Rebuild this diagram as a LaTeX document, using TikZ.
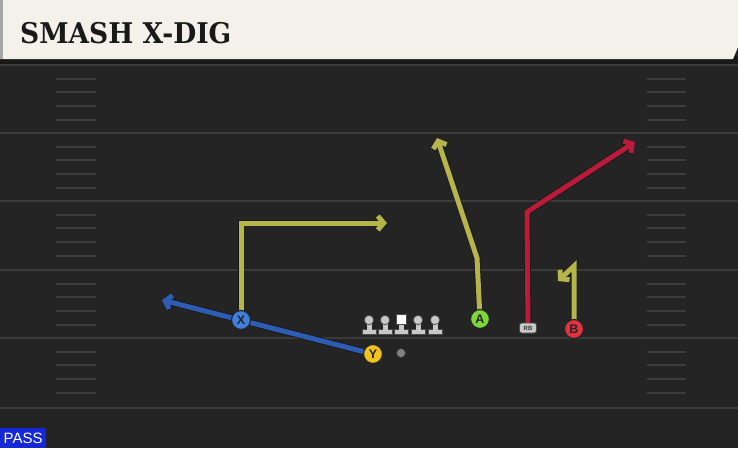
\documentclass[tikz,border=0pt]{standalone}
\usepackage{fontspec}
\setmainfont{Liberation Sans}
\newfontfamily\titlefont{DejaVu Serif}
\usetikzlibrary{arrows.meta,backgrounds}
\definecolor{fieldbg}{HTML}{242424}
\definecolor{yardline}{HTML}{3A3A3A}
\definecolor{hashc}{HTML}{3C3C3C}
\definecolor{bannerc}{HTML}{F4F1EA}
\definecolor{olive}{HTML}{B5B54C}
\definecolor{routeblue}{HTML}{2D5CB3}
\definecolor{routered}{HTML}{B81C3A}
\definecolor{ycol}{HTML}{F0C21E}
\definecolor{xcol}{HTML}{3F7FE0}
\definecolor{acol}{HTML}{7CD63A}
\definecolor{bcol}{HTML}{E6313F}
\definecolor{passblue}{HTML}{1428D6}
\definecolor{olc}{HTML}{C8C8C8}
\tikzset{
  route/.style={line width=5pt, -{Straight Barb[length=6pt,width=14pt]},
    preaction={draw=black!90, line width=6.6pt}},
  player/.style={circle, minimum size=19pt, inner sep=0pt, draw=black!85, line width=1.2pt,
    font=\bfseries\fontsize{12.5}{12.5}\selectfont, text=black!85},
  lineman/.pic={
    \fill[olc, draw=black!70, line width=0.7pt] (-7,9) rectangle (7,14);
    \fill[olc] (-2.5,1) rectangle (2.5,10);
    \fill[olc, draw=black!70, line width=0.7pt] (0,0) circle (4.7);
  },
  centerman/.pic={
    \fill[olc, draw=black!70, line width=0.7pt] (-7,9) rectangle (7,14);
    \fill[olc] (-2.5,2) rectangle (2.5,10);
    \fill[white, draw=black!70, line width=0.7pt] (-5,-6) rectangle (5,4);
  },
}
\begin{document}
\begin{tikzpicture}[x=1pt,y=-1pt]
\useasboundingbox (0,0) rectangle (738,448);
% players
\node[player, fill=xcol] (X) at (241,320) {X};
\node[player, fill=ycol] (Y) at (373,354) {Y};
\node[player, fill=acol] (A) at (480,319) {A};
\node[player, fill=bcol] (B) at (574,329) {B};
\node[fill=olc, draw=black!70, line width=0.6pt, rounded corners=2.5pt, minimum width=17pt, minimum height=10pt,
  inner sep=0pt, font=\bfseries\fontsize{6}{6}\selectfont, text=black!80] (RB) at (528,328) {RB};
\node[circle, fill=black!50!white, draw=black!80, line width=0.5pt, minimum size=9pt, inner sep=0pt] (QB) at (401,353) {};
\pic at (369,320) {lineman};
\pic at (385,320) {lineman};
\pic at (401,320) {centerman};
\pic at (418,320) {lineman};
\pic at (435,320) {lineman};
% route coordinates
\coordinate (yend) at (162,300);
\coordinate (xb) at (241,223);
\coordinate (xend) at (387,223);
\coordinate (ab) at (477,258);
\coordinate (aend) at (437,138);
\coordinate (rbb) at (527,212);
\coordinate (rbend) at (635,142);
\coordinate (bb) at (574,266);
\coordinate (bend) at (558,281);
\begin{scope}[on background layer]
  \fill[fieldbg] (0,0) rectangle (738,448);
  \fill[black!90] (0,56) rectangle (738,66);
  \foreach \y in {65,133,201,270,338,408} \draw[yardline, line width=2.5pt] (0,\y) -- (738,\y);
  \foreach \b in {65,133,201,270,338} {
    \foreach \d in {14,27,41,55} {
      \draw[hashc, line width=2pt] (56,\b+\d) -- (96,\b+\d);
      \draw[hashc, line width=2pt] (647,\b+\d) -- (686,\b+\d);
    }
  }
  \fill[bannerc] (0,0) -- (738,0) -- (738,47) -- (733,59) -- (0,59) -- cycle;
  \fill[black!35] (0,0) rectangle (3,59);
  \draw[route, routeblue] (Y.center) -- (yend);
  \draw[route, olive] (X.center) -- (xb) -- (xend);
  \draw[route, olive] (A.center) -- (ab) -- (aend);
  \draw[route, routered] (RB.center) -- (rbb) -- (rbend);
  \draw[route, olive] (B.center) -- (bb) -- (bend);
\end{scope}
\node[anchor=base west, inner sep=0pt, text=black!90] (title) at (20,43)
  {\scalebox{0.93}[1]{\titlefont\bfseries\fontsize{28.5}{28.5}\selectfont SMASH X-DIG}};
\node[anchor=north west, fill=passblue, minimum width=46pt, minimum height=20pt, inner sep=0pt,
  text=white, font=\fontsize{15}{15}\selectfont] (pass) at (0,428) {PASS};
\end{tikzpicture}
\end{document}
